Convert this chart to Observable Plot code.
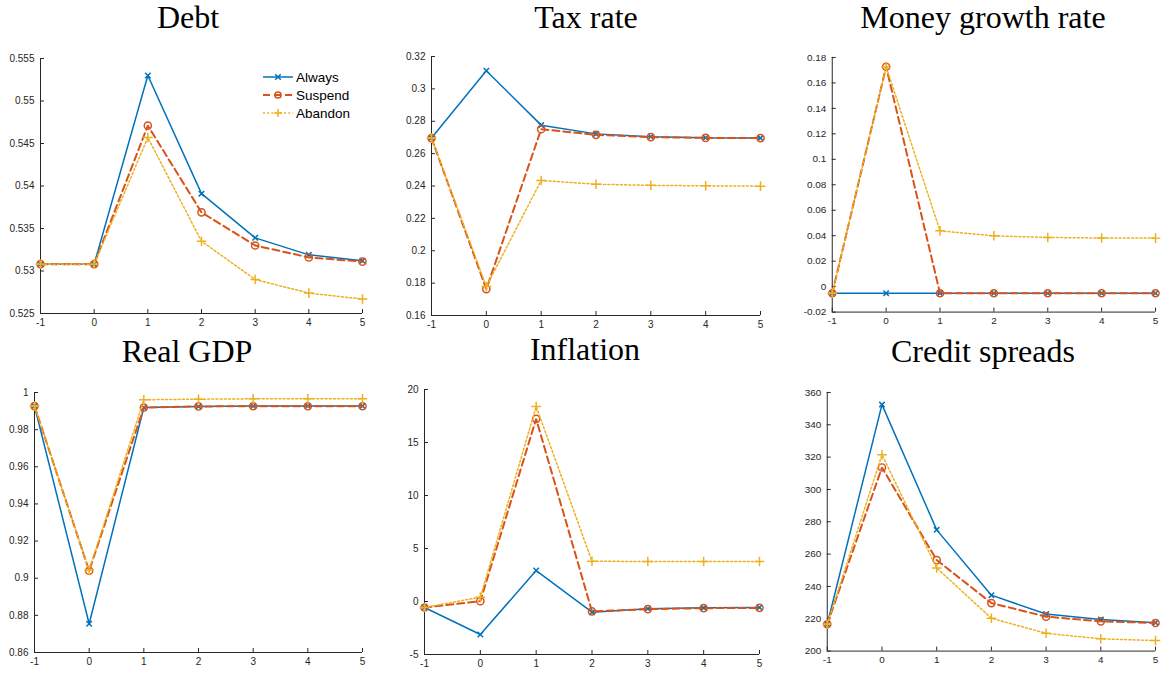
<!DOCTYPE html>
<html>
<head>
<meta charset="utf-8">
<script src="https://cdn.jsdelivr.net/npm/d3@7"></script>
<script src="https://cdn.jsdelivr.net/npm/@observablehq/plot@0.6"></script>
<style>
  html, body { margin: 0; padding: 0; background: #fff; overflow: hidden; }
  #root { position: relative; width: 1161px; height: 673px; }
  .panel { position: absolute; }
  #overlay { position: absolute; left: 0; top: 0; pointer-events: none; }
</style>
</head>
<body>
<div id="root"></div>
<script>
// ---------- data ----------
const periods = [-1, 0, 1, 2, 3, 4, 5];
const seriesNames = ["Always", "Suspend", "Abandon"];
const seriesColors = ["#0072BD", "#D95319", "#EDB120"];

const debtAlways  = [0.5308, 0.5308, 0.5530, 0.5391, 0.5339, 0.5319, 0.5312];
const debtSuspend = [0.5308, 0.5308, 0.5471, 0.5369, 0.5330, 0.5316, 0.5311];
const debtAbandon = [0.5308, 0.5308, 0.5457, 0.5335, 0.5290, 0.5274, 0.5267];

const taxAlways  = [0.2696, 0.3112, 0.2776, 0.2722, 0.2704, 0.2698, 0.2696];
const taxSuspend = [0.2696, 0.1763, 0.2751, 0.2716, 0.2702, 0.2697, 0.2696];
const taxAbandon = [0.2696, 0.1779, 0.2434, 0.2411, 0.2404, 0.2401, 0.2399];

const moneyAlways  = [-0.0052, -0.0052, -0.0052, -0.0052, -0.0052, -0.0052, -0.0052];
const moneySuspend = [-0.0052, 0.1727, -0.0052, -0.0052, -0.0052, -0.0052, -0.0052];
const moneyAbandon = [-0.0052, 0.1727, 0.0438, 0.0399, 0.0386, 0.0382, 0.0381];

const gdpAlways  = [0.9927, 0.8755, 0.9919, 0.9925, 0.9927, 0.9927, 0.9927];
const gdpSuspend = [0.9927, 0.9040, 0.9919, 0.9925, 0.9926, 0.9926, 0.9926];
const gdpAbandon = [0.9927, 0.9043, 0.9961, 0.9964, 0.9966, 0.9966, 0.9966];

const inflAlways  = [-0.57, -3.11, 2.92, -1.01, -0.69, -0.60, -0.57];
const inflSuspend = [-0.57, 0.03, 17.23, -0.94, -0.72, -0.63, -0.60];
const inflAbandon = [-0.57, 0.41, 18.40, 3.80, 3.77, 3.77, 3.77];

const credAlways  = [216.6, 352.5, 275.0, 234.6, 222.9, 219.6, 217.6];
const credSuspend = [216.6, 313.6, 256.3, 229.7, 221.3, 218.4, 217.4];
const credAbandon = [216.6, 321.5, 251.4, 220.3, 211.0, 207.6, 206.5];

const titles = ["Debt", "Tax rate", "Money growth rate", "Real GDP", "Inflation", "Credit spreads"];
const yTicksDebt  = [0.525, 0.53, 0.535, 0.54, 0.545, 0.55, 0.555];
const yTicksTax   = [0.16, 0.18, 0.2, 0.22, 0.24, 0.26, 0.28, 0.3, 0.32];
const yTicksMoney = [-0.02, 0, 0.02, 0.04, 0.06, 0.08, 0.1, 0.12, 0.14, 0.16, 0.18];
const yTicksGdp   = [0.86, 0.88, 0.9, 0.92, 0.94, 0.96, 0.98, 1];
const yTicksInfl  = [-5, 0, 5, 10, 15, 20];
const yTicksCred  = [200, 220, 240, 260, 280, 300, 320, 340, 360];

// ---------- layout ----------
const panels = [
  {title: titles[0], series: [debtAlways, debtSuspend, debtAbandon], ticks: yTicksDebt,  frame: {l: 40,  r: 362,  t: 58,  b: 313}, titleX: 188, titleY: 28},
  {title: titles[1], series: [taxAlways, taxSuspend, taxAbandon],    ticks: yTicksTax,   frame: {l: 431, r: 760,  t: 56,  b: 315}, titleX: 586, titleY: 28},
  {title: titles[2], series: [moneyAlways, moneySuspend, moneyAbandon], ticks: yTicksMoney, frame: {l: 832, r: 1157, t: 57, b: 313}, titleX: 983, titleY: 28},
  {title: titles[3], series: [gdpAlways, gdpSuspend, gdpAbandon],    ticks: yTicksGdp,   frame: {l: 34,  r: 362,  t: 392, b: 652}, titleX: 187, titleY: 362},
  {title: titles[4], series: [inflAlways, inflSuspend, inflAbandon], ticks: yTicksInfl,  frame: {l: 424, r: 759,  t: 389, b: 654}, titleX: 585, titleY: 360},
  {title: titles[5], series: [credAlways, credSuspend, credAbandon], ticks: yTicksCred,  frame: {l: 827, r: 1157, t: 392, b: 652}, titleX: 983, titleY: 362}
];

const styles = [
  {dash: null,  width: 1.5, symbol: "times",  r: 2.6},
  {dash: "7,4", width: 2,   symbol: "circle", r: 3.6},
  {dash: "2,2.2", width: 1.5, symbol: "plus", r: 3.2}
];

const fmt = d => String(+d.toFixed(4));
const axisColor = "#262626";

const root = document.getElementById("root");
const mL = 46, mR = 6, mT = 8, mB = 24;

panels.forEach(p => {
  const rows = [];
  p.series.forEach((vals, si) => vals.forEach((v, i) => rows.push({x: periods[i], y: v, s: seriesNames[si]})));
  const yDomain = [p.ticks[0], p.ticks[p.ticks.length - 1]];
  const marks = [
    Plot.ruleX([periods[0]], {y1: yDomain[0], y2: yDomain[1], stroke: axisColor, strokeWidth: 1}),
    Plot.ruleY([yDomain[0]], {x1: periods[0], x2: periods[periods.length - 1], stroke: axisColor, strokeWidth: 1}),
    Plot.axisY(p.ticks, {tickSize: -4, tickPadding: 10, tickFormat: fmt, stroke: axisColor, fill: axisColor, label: null}),
    Plot.axisX(periods, {tickSize: -4, tickPadding: 9, tickFormat: fmt, stroke: axisColor, fill: axisColor, label: null})
  ];
  seriesNames.forEach((name, si) => {
    const data = rows.filter(d => d.s === name);
    const st = styles[si];
    marks.push(Plot.line(data, {x: "x", y: "y", stroke: seriesColors[si], strokeWidth: st.width, strokeDasharray: st.dash, strokeLinejoin: "miter"}));
    marks.push(Plot.dot(data, {x: "x", y: "y", symbol: () => st.symbol, r: st.r, stroke: seriesColors[si], fill: "none", strokeWidth: 1.5}));
  });
  const w = (p.frame.r - p.frame.l) + mL + mR;
  const h = (p.frame.b - p.frame.t) + mT + mB;
  const svg = Plot.plot({
    width: w, height: h,
    marginLeft: mL, marginRight: mR, marginTop: mT, marginBottom: mB,
    x: {domain: [periods[0], periods[periods.length - 1]], axis: null, label: null},
    y: {domain: yDomain, axis: null, label: null},
    symbol: {type: "identity"},
    style: {fontFamily: "'Liberation Sans', Arial, sans-serif", fontSize: "10px", color: axisColor, background: "transparent", overflow: "visible"},
    marks
  });
  const div = document.createElement("div");
  div.className = "panel";
  div.style.left = (p.frame.l - mL) + "px";
  div.style.top = (p.frame.t - mT) + "px";
  div.appendChild(svg);
  root.appendChild(div);
});

// ---------- titles and legend overlay ----------
const overlay = d3.select(root).append("svg")
  .attr("id", "overlay").attr("width", 1161).attr("height", 673);

overlay.selectAll("text.title").data(panels).join("text")
  .attr("class", "title")
  .attr("x", d => d.titleX).attr("y", d => d.titleY)
  .attr("text-anchor", "middle")
  .attr("font-family", "'Liberation Serif', 'Times New Roman', serif")
  .attr("font-size", 32)
  .attr("fill", "#000")
  .text(d => d.title);

const legendSymbols = [d3.symbolTimes, d3.symbolCircle, d3.symbolPlus];
const leg = overlay.append("g").attr("transform", "translate(263,77)");
seriesNames.forEach((name, i) => {
  const g = leg.append("g").attr("transform", `translate(0,${i * 18})`);
  g.append("line").attr("x1", 0).attr("x2", 30).attr("y1", 0).attr("y2", 0)
    .attr("stroke", seriesColors[i]).attr("stroke-width", styles[i].width)
    .attr("stroke-dasharray", styles[i].dash);
  g.append("path").attr("transform", "translate(15,0)")
    .attr("d", d3.symbol(legendSymbols[i], i === 1 ? 30 : 22)())
    .attr("fill", "none").attr("stroke", seriesColors[i]).attr("stroke-width", 1.5);
  g.append("text").attr("x", 33).attr("y", 5)
    .attr("font-family", "'Liberation Sans', Arial, sans-serif").attr("font-size", 13.5)
    .attr("fill", "#000").text(name);
});
</script>
</body>
</html>
